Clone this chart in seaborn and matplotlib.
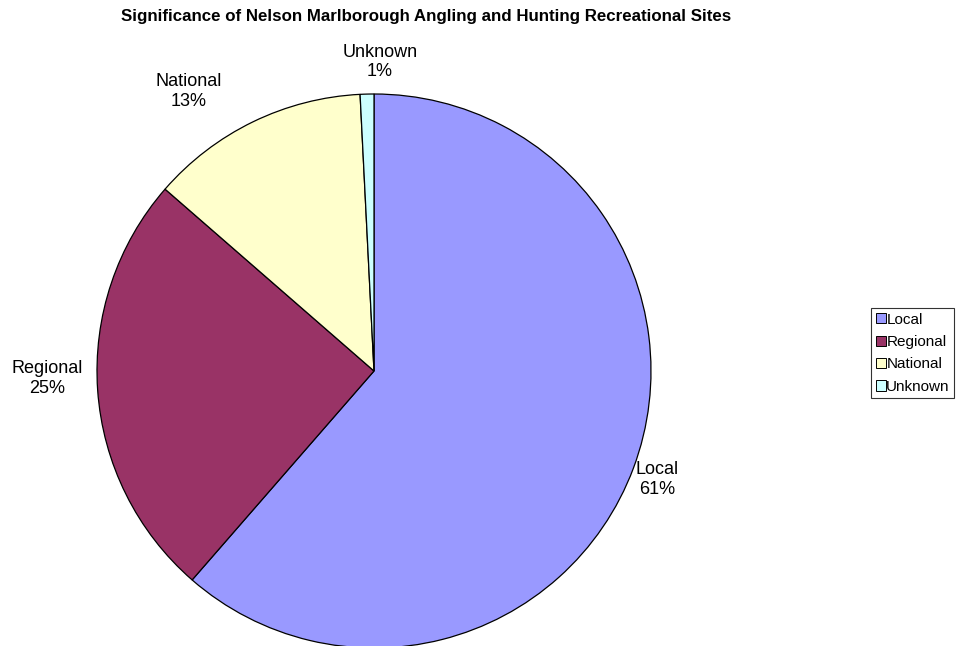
import numpy as np
import matplotlib
matplotlib.use("Agg")
import matplotlib.pyplot as plt
import seaborn as sns

# Share of recreational sites by significance level (percent)
categories = ["Local", "Regional", "National", "Unknown"]
shares = [61.4, 25.0, 12.8, 0.8]
colors = ["#9999FF", "#993366", "#FFFFCC", "#CCFFFF"]

sns.set_style("white")
plt.rcParams["font.family"] = ["Liberation Sans", "DejaVu Sans"]
plt.rcParams["text.color"] = "black"

fig = plt.figure(figsize=(9.59, 6.46), dpi=100)
ax = fig.add_axes([97 / 959, -2 / 646, 554 / 959, 554 / 646])

palette = sns.color_palette(colors)
wedges, _ = ax.pie(
    shares,
    colors=palette,
    startangle=90,
    counterclock=False,
    radius=1.0,
    wedgeprops=dict(edgecolor="black", linewidth=0.9),
)
ax.set_xlim(-1, 1)
ax.set_ylim(-1, 1)
ax.set_aspect("equal")
ax.axis("off")

# Category labels with rounded percentages, placed outside each slice
label_dist = [1.094, 1.18, 1.21, 1.116]
label_turn = [-0.4, -2.6, 7.6, -2.5]
total = sum(shares)
for w, name, val, d, turn in zip(wedges, categories, shares, label_dist, label_turn):
    mid = np.deg2rad((w.theta1 + w.theta2) / 2 + turn)
    ax.text(d * np.cos(mid), d * np.sin(mid),
            f"{name}\n{100 * val / total:.0f}%",
            ha="center", va="center", fontsize=13, linespacing=1.2,
            color="black", clip_on=False)

fig.suptitle("Significance of Nelson Marlborough Angling and Hunting Recreational Sites",
             x=426 / 959, y=1 - 9 / 646, va="top", fontsize=12.2,
             fontweight="bold", color="black")

leg = fig.legend(
    wedges, categories,
    loc="upper left", bbox_to_anchor=(871 / 959, 1 - 308 / 646),
    fontsize=11, frameon=True, fancybox=False, shadow=False,
    handlelength=0.65, handleheight=0.65, handletextpad=0.05,
    labelspacing=0.55, borderpad=0.3, borderaxespad=0,
    labelcolor="black",
)
leg.get_frame().set_edgecolor("black")
leg.get_frame().set_linewidth(0.8)
for h in leg.legend_handles:
    h.set_linewidth(0.7)

fig.savefig("out.png", dpi=100)
